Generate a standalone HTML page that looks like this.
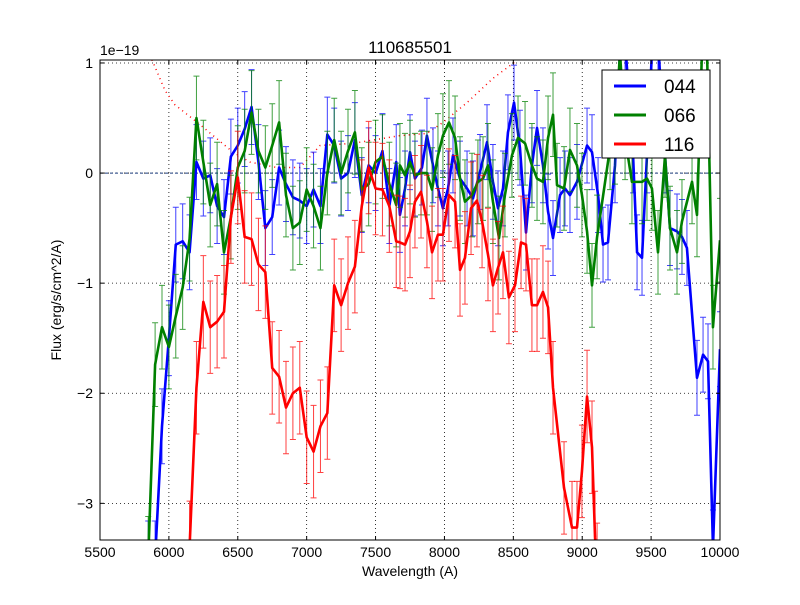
<!DOCTYPE html>
<html><head><meta charset="utf-8"><style>
body{margin:0;background:#fff;}
svg text{font-family:"Liberation Sans","DejaVu Sans",sans-serif;}
</style></head><body>
<svg id="chart" width="800" height="600" xmlns="http://www.w3.org/2000/svg">
<rect width="800" height="600" fill="#fff"/>
<defs><clipPath id="clip"><rect x="100" y="60" width="620" height="480"/></clipPath></defs>
<g id="grid"></g>
<g id="marks" clip-path="url(#clip)"></g>
<rect x="100" y="60" width="620" height="480" fill="none" stroke="#000" stroke-width="1"/>
<g id="axes"></g>
<text x="410" y="53" font-size="17" text-anchor="middle">110685501</text>
<text x="100" y="55" font-size="14">1e−19</text>
<text x="410" y="576" font-size="14" text-anchor="middle">Wavelength (A)</text>
<text transform="translate(61,300) rotate(-90)" font-size="14" text-anchor="middle">Flux (erg/s/cm^2/A)</text>
<g>
<rect x="602" y="70" width="108" height="88" fill="#fff" stroke="#000"/>
<g><line x1="614" y1="86" x2="646" y2="86" stroke="#0000ff" stroke-width="3"/><text x="664" y="93" font-size="19">044</text></g>
<g><line x1="614" y1="115" x2="646" y2="115" stroke="#008000" stroke-width="3"/><text x="664" y="122" font-size="19">066</text></g>
<g><line x1="614" y1="144" x2="646" y2="144" stroke="#ff0000" stroke-width="3"/><text x="664" y="151" font-size="19">116</text></g>
</g>
</svg>
<script>
const lambda044 = [5850,5900,5950,6000,6050,6100,6150,6200,6250,6300,6350,6400,6450,6500,6550,6600,6650,6700,6750,6800,6850,6900,6950,7000,7050,7100,7150,7200,7250,7300,7350,7400,7450,7500,7550,7600,7650,
 7677,7714,7750,7786,7837,7873,7917,7953,7989,8026,8062,8113,8164,8207,8258,8309,8352,8389,8425,8461,8505,8548,8592,8635,8672,8715,8752,8788,8839,8875,8911,8962,9035,9071,9115,9151,9187,9238,9274,9311,9369,9398,9434,9470,9506,9550,9601,9637,9688,9724,9760,9833,9877,9913,9949,10000];
const flux044 = [-3.5,-3.5,-2.3,-1.5,-0.65,-0.62,-0.72,0.1,-0.05,-0.02,-0.3,-0.4,0.15,0.25,0.4,0.6,0.1,-0.5,-0.4,0.05,-0.1,-0.22,-0.25,-0.3,-0.15,-0.3,0.35,0.25,-0.05,0.0,0.3,-0.2,0.07,0.0,0.2,-0.3,0.1,
 -0.38,-0.14,0.19,-0.05,0.05,0.34,0.07,-0.14,-0.32,-0.14,0.16,-0.05,-0.14,-0.23,0.01,0.28,-0.08,-0.32,-0.14,0.37,0.64,0.23,-0.54,0.07,0.41,0.07,-0.35,-0.59,-0.2,-0.14,-0.2,-0.08,0.25,0.19,-0.2,-0.65,-0.63,0.07,1.1,1.2,0.16,-0.72,-0.77,0.16,1.1,1.2,0.16,-0.5,-0.53,-0.58,-0.68,-1.86,-1.65,-1.71,-3.4,-1.6];
const lambda066 = [5850,5900,5950,6000,6050,6100,6150,6200,6250,6300,6350,6400,6450,6500,6550,6600,6650,6700,6750,6800,6850,6900,6950,7000,7050,7100,7150,7200,7250,7300,7350,7400,7450,7500,7550,7600,7650,
 7677,7714,7750,7786,7830,7873,7910,7953,7989,8033,8077,8113,8149,8200,8243,8280,8316,8352,8396,8439,8490,8534,8585,8635,8672,8715,8752,8788,8817,8868,8911,8962,8998,9035,9071,9108,9202,9238,9274,9311,9361,9434,9470,9506,9550,9601,9637,9688,9724,9797,9833,9869,9906,9949,10000];
const flux066 = [-3.5,-1.74,-1.4,-1.58,-1.3,-1.04,-0.6,0.5,0.1,-0.29,-0.1,-0.72,-0.4,0.05,0.2,0.55,0.2,0.05,0.25,0.46,-0.2,-0.5,-0.45,-0.15,-0.3,-0.5,0.0,0.3,0.0,0.2,0.37,-0.15,-0.1,0.1,0.15,-0.1,-0.29,
 0.07,-0.02,0.1,-0.02,0.0,0.0,-0.15,0.16,0.34,0.46,0.32,-0.05,-0.26,-0.2,-0.08,-0.05,0.07,-0.26,-0.59,-0.2,0.16,0.32,0.27,0.07,-0.05,-0.08,0.32,0.53,-0.11,-0.14,0.21,0.07,-0.2,-0.53,-1.02,-0.58,0.23,0.28,1.1,0.32,-0.08,-0.08,-0.05,-0.14,-0.72,0.16,-0.5,-0.72,-0.44,-0.08,-0.38,1.1,1.1,-1.4,-0.61];
const lambda116 = [6150,6200,6250,6300,6350,6400,6450,6500,6550,6600,6650,6700,6750,6800,6850,6900,6950,7000,7050,7100,7150,7200,7250,7300,7350,7400,7450,7500,7550,7600,7650,
 7677,7714,7750,7786,7830,7873,7910,7953,7989,8033,8077,8113,8149,8193,8236,8273,8316,8352,8389,8425,8468,8512,8556,8592,8635,8672,8715,8752,8788,8868,8926,8962,8998,9035,9071,9093,9108];
const flux116 = [-3.4,-1.95,-1.17,-1.4,-1.35,-1.26,-0.4,-0.04,-0.58,-0.6,-0.83,-0.9,-1.77,-1.85,-2.13,-2.0,-1.95,-2.4,-2.53,-2.3,-2.18,-1.02,-1.2,-1.0,-0.85,-0.3,0.05,-0.14,-0.15,-0.3,-0.62,
 -0.63,-0.65,-0.53,-0.26,-0.17,-0.44,-0.72,-0.56,-0.56,-0.2,-0.26,-0.88,-0.77,-0.32,-0.25,-0.44,-0.74,-1.02,-0.86,-0.72,-1.13,-1.02,-0.63,-0.65,-1.2,-1.2,-1.08,-1.22,-1.95,-2.86,-3.22,-3.22,-2.71,-2.03,-2.49,-3.31,-3.6];
const err044 = 0.34, err066 = 0.38, err116 = 0.42;
const skyLambda = [5863,5972,6044,6226,6465,6589,6785,6952,7097,7336,7677,7873,7989,8164,8352,8512];
const skyFlux = [1.07,0.75,0.62,0.44,0.19,0.10,0.05,0.05,0.25,0.27,0.34,0.36,0.46,0.64,0.86,1.01];
const xTicks = [5500,6000,6500,7000,7500,8000,8500,9000,9500,10000];
const yTicks = [1,0,-1,-2,-3];
const yTickLabels = ["1","0","−1","−2","−3"];

const X0=100,X1=720,Y0=60,Y1=540, xMin=5500,xMax=10000, yMin=-3.333, yMax=1.027;
const sx = v => X0 + (v - xMin) / (xMax - xMin) * (X1 - X0);
const sy = v => Y1 - (v - yMin) / (yMax - yMin) * (Y1 - Y0);
const NS="http://www.w3.org/2000/svg";
function mk(tag, attrs, parent){const e=document.createElementNS(NS,tag);for(const k in attrs)e.setAttribute(k,attrs[k]);parent.appendChild(e);return e;}
const grid=document.getElementById('grid'), axes=document.getElementById('axes'), marks=document.getElementById('marks');

xTicks.forEach((t)=>{
  const x=sx(t);
  const g=mk('line',{x1:x,x2:x,y1:Y0,y2:Y1,stroke:'#000','stroke-dasharray':'1,3','stroke-width':0.8},grid);
  
  
  mk('line',{x1:x,x2:x,y1:Y1,y2:Y1-4,stroke:'#000'},axes);
  mk('line',{x1:x,x2:x,y1:Y0,y2:Y0+4,stroke:'#000'},axes);
  const tx=mk('text',{x:x,y:Y1+17,'font-size':14,'text-anchor':'middle'},axes);
  tx.textContent=t;
  
  
});
yTicks.forEach((t,i)=>{
  const y=sy(t);
  const g=mk('line',{x1:X0,x2:X1,y1:y,y2:y,stroke:'#000','stroke-dasharray':'1,3','stroke-width':0.8},grid);
  
  
  mk('line',{x1:X0,x2:X0+4,y1:y,y2:y,stroke:'#000'},axes);
  mk('line',{x1:X1,x2:X1-4,y1:y,y2:y,stroke:'#000'},axes);
  const tx=mk('text',{x:X0-7,y:y+5,'font-size':14,'text-anchor':'end'},axes);
  tx.textContent=yTickLabels[i];
  
  
});
const zl=mk('line',{x1:X0,x2:X1,y1:sy(0),y2:sy(0),stroke:'#1f3f7f','stroke-dasharray':'3,2','stroke-width':1},marks);



const sky=mk('polyline',{points:skyLambda.map((l,i)=>sx(l)+','+sy(skyFlux[i])).join(' '),fill:'none',stroke:'#ff0000','stroke-dasharray':'1,4','stroke-width':1.5},marks);



function series(lams, vals, err, color, name){
  const g=mk('g',{},marks);
  
  
  const pts=[];
  vals.forEach((v,i)=>{
    const x=sx(lams[i]);
    const bar=mk('path',{d:`M${x},${sy(v-err)}V${sy(v+err)}M${x-3},${sy(v-err)}h6M${x-3},${sy(v+err)}h6`,stroke:color,'stroke-width':1,'stroke-opacity':0.75,fill:'none'},g);
    
    
    pts.push(x+','+sy(v));
  });
  const ln=mk('polyline',{points:pts.join(' '),fill:'none',stroke:color,'stroke-width':2.6,'stroke-linejoin':'round'},g);
  
  
}
series(lambda044, flux044, err044, '#0000ff', 'series-044');
series(lambda066, flux066, err066, '#008000', 'series-066');
series(lambda116, flux116, err116, '#ff0000', 'series-116');
</script>
</body></html>
